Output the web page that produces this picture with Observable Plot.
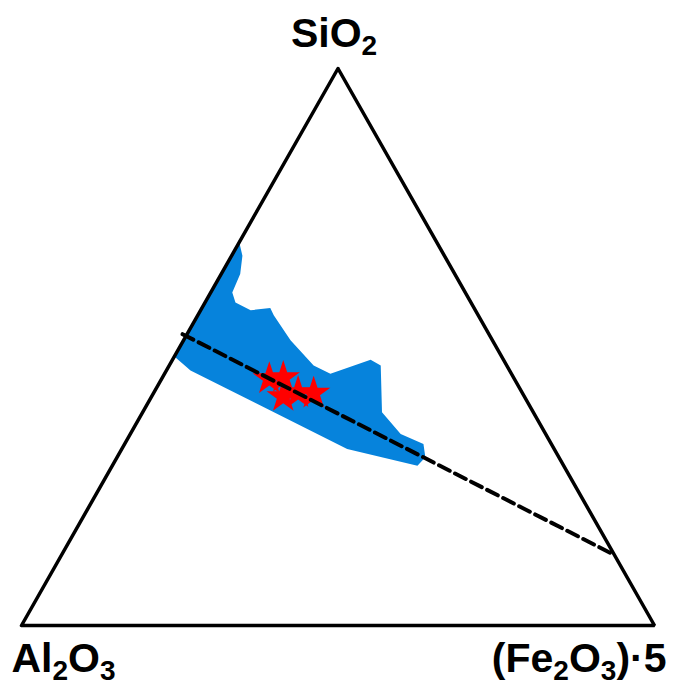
<!DOCTYPE html>
<html>
<head>
<meta charset="utf-8">
<script src="https://cdn.jsdelivr.net/npm/d3@7"></script>
<script src="https://cdn.jsdelivr.net/npm/@observablehq/plot@0.6"></script>
<style>
  html, body { margin: 0; padding: 0; background: #fff; }
</style>
</head>
<body>
<div id="chart"></div>
<script>
// Vertex (component) names
const vertexNames = ["SiO₂", "Al₂O₃", "(Fe₂O₃)·5"];

// Triangle frame corners as compositions [SiO2, Al2O3, Fe2O3*5] (%)
const frameSiO2   = [100, 0, 0, 100, 0];
const frameAl2O3  = [0, 100, 0, 0, 100];
const frameFe2O3x5 = [0, 0, 100, 0, 0];

// Blue compositional field (outline, %)
const fieldSiO2    = [68.8, 66.4, 63.1, 59.8, 58.0, 56.6, 57.0, 55.7, 51.2, 46.7, 45.2, 47.7, 46.7, 38.3, 34.4, 32.6, 30.2, 28.7, 31.7, 45.8, 48.3];
const fieldAl2O3   = [31.2, 31.9, 33.9, 36.8, 37.2, 35.5, 32.2, 32.3, 31.9, 30.5, 28.6, 21.0, 19.9, 23.9, 22.9, 20.2, 21.1, 23.1, 32.7, 50.4, 51.7];
const fieldFe2O3x5 = [0.0, 1.7, 3.0, 3.4, 4.8, 7.9, 10.8, 12.0, 16.9, 22.8, 26.2, 31.3, 33.4, 37.8, 42.7, 47.2, 48.7, 48.2, 35.6, 3.8, 0.0];

// Samples (red stars, %)
const sampleSiO2    = [44.3, 44.5, 41.1, 41.8, 41.7];
const sampleAl2O3   = [38.7, 36.4, 38.1, 35.4, 33.0];
const sampleFe2O3x5 = [17.0, 19.1, 20.8, 22.8, 25.3];

// Dashed trend line end points (%)
const trendSiO2    = [52.3, 13.0];
const trendAl2O3   = [48.4, 0.4];
const trendFe2O3x5 = [-0.7, 86.6];

// ternary -> cartesian (unit triangle, SiO2 apex at top)
function toXY(si, al, fe) {
  return si.map((s, i) => {
    const sum = s + al[i] + fe[i];
    return { x: (fe[i] + s / 2) / sum, y: s / sum };
  });
}

const frame = toXY(frameSiO2, frameAl2O3, frameFe2O3x5);
const field = toXY(fieldSiO2, fieldAl2O3, fieldFe2O3x5);
const samples = toXY(sampleSiO2, sampleAl2O3, sampleFe2O3x5);
const trend = toXY(trendSiO2, trendAl2O3, trendFe2O3x5);
const corners = toXY([100, 0, 0], [0, 100, 0], [0, 0, 100]);

const FS = 41;
const font = "Liberation Sans, Arial, Helvetica, sans-serif";
function label(i, anchor, dx, dy) {
  return Plot.text([corners[i]], {
    x: "x", y: "y", text: () => vertexNames[i],
    textAnchor: anchor, lineAnchor: "bottom", dx, dy,
    fontSize: FS, fontWeight: "bold", fontFamily: font, fill: "black",
    className: "vlabel"
  });
}

const chart = Plot.plot({
  width: 673,
  height: 686,
  margin: 0,
  x: { domain: [0, 1], range: [21, 654], axis: null },
  y: { domain: [0, 1], range: [625, 68], axis: null },
  marks: [
    Plot.line(field, { x: "x", y: "y", fill: "#0683dc", stroke: "none" }),
    Plot.line(frame, { x: "x", y: "y", stroke: "black", strokeWidth: 3.5, strokeLinejoin: "miter" }),
    Plot.dot(samples, { x: "x", y: "y", symbol: "star", r: 10.5, fill: "#ff0000", stroke: "none" }),
    Plot.line(trend, { x: "x", y: "y", stroke: "black", strokeWidth: 4, strokeDasharray: "12,6" }),
    label(0, "middle", -4, -22),
    label(1, "start", -10, 46),
    label(2, "end", 12, 46)
  ]
});

// turn subscript characters into real subscript tspans
const subMap = { "₀": "0", "₁": "1", "₂": "2", "₃": "3", "₄": "4", "₅": "5", "₆": "6", "₇": "7", "₈": "8", "₉": "9" };
const subSize = Math.round(FS * 0.68);
const shift = Math.round(FS * 0.2);
d3.select(chart).selectAll(".vlabel text").each(function () {
  const t = this.textContent;
  const el = d3.select(this);
  el.text(null);
  let runs = [];
  for (const ch of t) {
    const isSub = ch in subMap;
    const c = isSub ? subMap[ch] : ch;
    if (runs.length && runs[runs.length - 1].sub === isSub) runs[runs.length - 1].s += c;
    else runs.push({ sub: isSub, s: c });
  }
  let down = false;
  for (const r of runs) {
    const ts = el.append("tspan").text(r.s);
    if (r.sub) {
      ts.attr("font-size", subSize).attr("dy", shift);
      down = true;
    } else if (down) {
      ts.attr("dy", -shift);
      down = false;
    }
  }
});

document.getElementById("chart").appendChild(chart);
</script>
</body>
</html>
